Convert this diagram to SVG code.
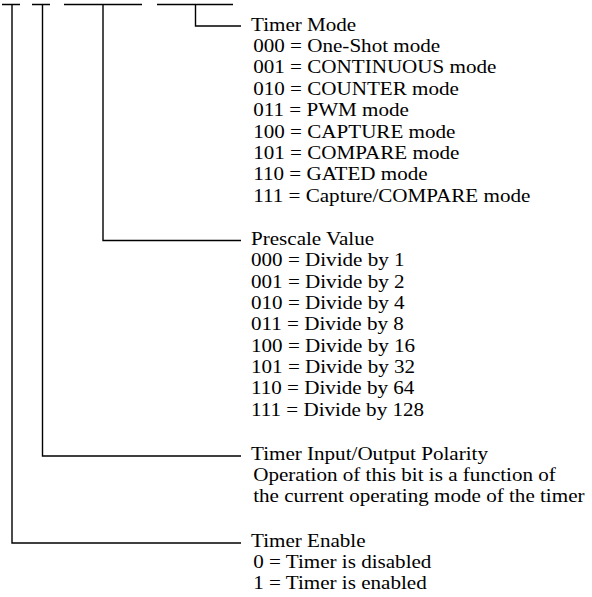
<svg xmlns="http://www.w3.org/2000/svg" width="592" height="597" viewBox="0 0 592 597">
<style>
.ln{stroke:#000;stroke-width:1.4;fill:none}
text{font-family:"Liberation Serif","Times New Roman",serif;font-size:19px;fill:#000}
.lbl{transform:matrix(1.11,0,0,1,-27.61,0)}
</style>
<rect width="592" height="597" fill="#fff"/>
<g id="connectors">
<path class="ln" d="M2 4.5H20M12 4.5V543H241"/>
<path class="ln" d="M32 4.5H50M42.5 4.5V456H241"/>
<path class="ln" d="M64 4.5H142M103 4.5V240.5H241"/>
<path class="ln" d="M157 4.5H233M195.5 4.5V26H241"/>
</g>
<g id="timer-mode" class="lbl">
<text x="251" y="31">Timer Mode</text>
<text x="253" y="52">000 = One-Shot mode</text>
<text x="253" y="73">001 = CONTINUOUS mode</text>
<text x="253" y="95">010 = COUNTER mode</text>
<text x="253" y="116">011 = PWM mode</text>
<text x="253" y="138">100 = CAPTURE mode</text>
<text x="253" y="159">101 = COMPARE mode</text>
<text x="253" y="180">110 = GATED mode</text>
<text x="253" y="202">111 = Capture/COMPARE mode</text>
</g>
<g id="prescale" class="lbl">
<text x="251" y="245">Prescale Value</text>
<text x="251" y="266">000 = Divide by 1</text>
<text x="251" y="288">001 = Divide by 2</text>
<text x="251" y="309">010 = Divide by 4</text>
<text x="251" y="330">011 = Divide by 8</text>
<text x="251" y="352">100 = Divide by 16</text>
<text x="251" y="373">101 = Divide by 32</text>
<text x="251" y="394">110 = Divide by 64</text>
<text x="251" y="416">111 = Divide by 128</text>
</g>
<g id="polarity" class="lbl">
<text x="251" y="460">Timer Input/Output Polarity</text>
<text x="253" y="481">Operation of this bit is a function of</text>
<text x="253" y="502">the current operating mode of the timer</text>
</g>
<g id="enable" class="lbl">
<text x="251" y="547">Timer Enable</text>
<text x="253" y="568">0 = Timer is disabled</text>
<text x="253" y="589">1 = Timer is enabled</text>
</g>
</svg>
